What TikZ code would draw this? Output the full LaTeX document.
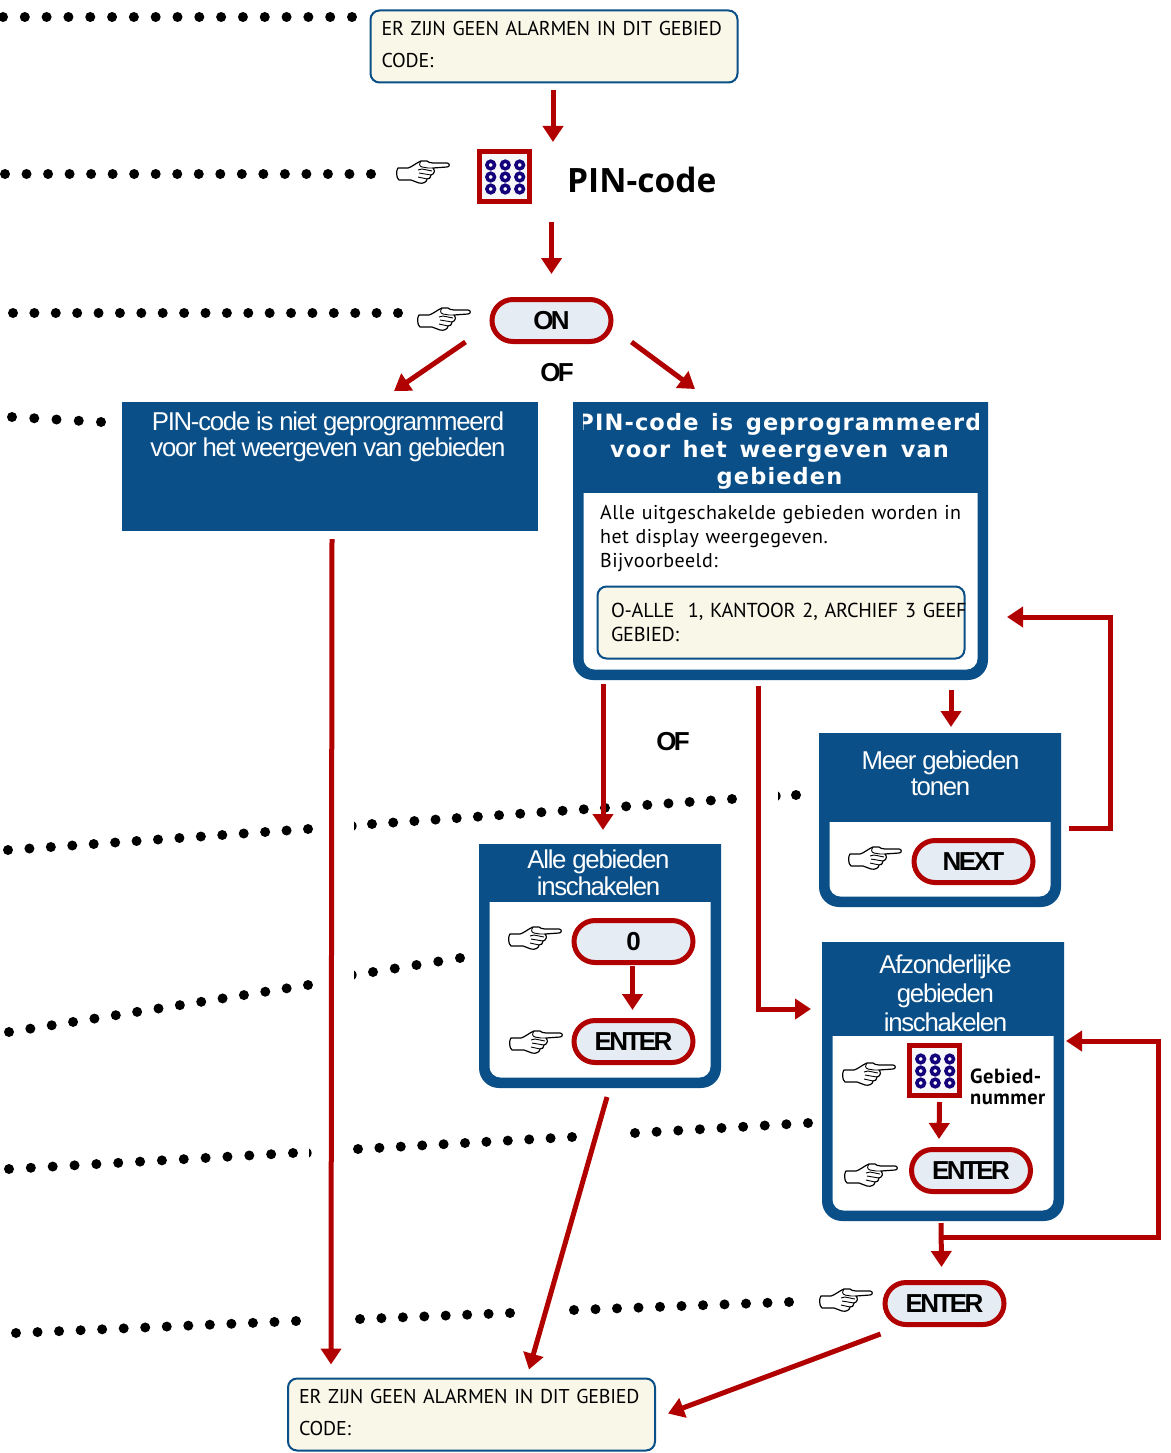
\documentclass[tikz,border=0pt]{standalone}
\usepackage{fontspec}
\usetikzlibrary{arrows.meta,calc,fit}
\setmainfont{Liberation Sans}
\newfontfamily\lcdfont[LetterSpace=-1.1,WordSpace=1.3]{PT Sans}
\newfontfamily\bodyfont[LetterSpace=2.3,WordSpace=1.6]{PT Sans}
\newfontfamily\tightfont[LetterSpace=-5]{Liberation Sans}
\newfontfamily\keyfont[LetterSpace=-10]{Liberation Sans}
\newfontfamily\headfont[LetterSpace=5,WordSpace=1.4]{DejaVu Sans}
\newfontfamily\pinfont{Open Sans}
\definecolor{panelblue}{HTML}{0A4F88}
\definecolor{redline}{HTML}{B00000}
\definecolor{lcdfill}{HTML}{F8F7E8}
\definecolor{keyfill}{HTML}{E6ECF3}
\definecolor{ringblue}{HTML}{14007A}
\tikzset{
  x=1pt,y=-1pt,
  arr/.style={draw=redline,line width=5pt,-{Triangle[width=20pt,length=16pt]}},
  lcd/.style={draw=panelblue,line width=2pt,fill=lcdfill,rounded corners=9pt,minimum width=367pt,minimum height=72pt,
    text width=345pt,align=left,inner sep=0pt,font=\lcdfont\fontsize{20}{32}\selectfont},
  keybtn/.style={draw=redline,line width=5pt,fill=keyfill,rounded corners=21pt,minimum width=119pt,minimum height=42pt,
    inner sep=0pt,font=\keyfont\bfseries\fontsize{26}{28}\selectfont},
  orlabel/.style={inner sep=0pt,font=\keyfont\bfseries\fontsize{26}{28}\selectfont},
  paneltitle/.style={inner sep=0pt,align=center,text=white,font=\tightfont\fontsize{25.8}{26.5}\selectfont},
  anchorbox/.style={inner sep=0pt,outer sep=0pt},
  handpic/.pic={
    \draw[black,line width=1.2pt,fill=white,line join=round]
      (1,8) -- (11,8) .. controls (15,7) and (19,3) .. (24,1) -- (30,1)
      .. controls (31,2) and (33,3) .. (36,3) -- (50,3)
      .. controls (53,3) and (53,7) .. (50,7) -- (36,8)
      .. controls (38,10) and (38,14) .. (34,15)
      .. controls (34,18) and (32,19) .. (30,19)
      .. controls (30,22) and (26,24) .. (22,23)
      -- (14,20) -- (2,20) .. controls (-1,18) and (-1,10) .. (1,8) -- cycle;
    \draw[black,line width=.9pt]
      (24,1) .. controls (22,4) and (22,6) .. (25,7) -- (31,8) -- (36,8)
      (21,10) -- (25,9) -- (35,11)
      (22,13) -- (34,15)
      (21,17) -- (30,19);
  },
  keypadpic/.pic={
    \draw[draw=redline,line width=4.6pt,fill=keyfill!40!white] (2.3,2.3) rectangle (52.7,52.7);
    \foreach \cx in {13.7,28.2,42.7} \foreach \cy in {16,28,40}
      \draw[ringblue,line width=3.5pt,fill=white] (\cx,\cy) circle (3.8pt);
  }
}
\newcommand{\panel}[6]{% name x1 y1 x2 y2 headbottom
  \fill[panelblue] (#2,#3) -- (#4,#3) [rounded corners=20pt] -- (#4,#5) -- (#2,#5) [sharp corners] -- cycle;
  \fill[white] (#2+10.5,#6) -- (#4-10.5,#6) [rounded corners=11pt] -- (#4-10.5,#5-10.5) -- (#2+10.5,#5-10.5) [sharp corners] -- cycle;
  \node[anchorbox,fit={(#2,#3)(#4,#5)}] (#1) {};
}
\newcommand{\dotrun}[3]{% from, to, intervals
  \foreach \i in {0,...,#3}
    \fill[black] ($(#1)!{\i/#3}!(#2)$) circle (5pt);
}
\newcommand{\sliver}[2]{% a dot mostly hidden behind the white strip, only its right edge shows
  \fill[black] (#1,#2-4.5) .. controls (#1+3.5,#2-3) and (#1+3.5,#2+3) .. (#1,#2+4.5) -- cycle;
}
\newcommand{\lowstrut}{\rule[-4pt]{0pt}{4pt}}
\begin{document}
\begin{tikzpicture}
\useasboundingbox (0,0) rectangle (1170,1453);
% dotted leaders
\coordinate (d1a) at (3,17);      \coordinate (d1b) at (352,17);
\coordinate (d2a) at (5,174);     \coordinate (d2b) at (371,174);
\coordinate (d3a) at (13,313);    \coordinate (d3b) at (398,313);
\coordinate (d4a) at (12,417);    \coordinate (d4b) at (101,422);
\coordinate (d5a) at (8,850);     \coordinate (d5b) at (308,829);
\coordinate (d5c) at (372,824);   \coordinate (d5d) at (732,799);
\coordinate (d6a) at (9,1032);    \coordinate (d6b) at (308,985);
\coordinate (d6c) at (373,972);   \coordinate (d6d) at (460,958);
\coordinate (d7a) at (9,1169);    \coordinate (d7b) at (293,1153);
\coordinate (d7c) at (358,1149);  \coordinate (d7d) at (572,1137);
\coordinate (d7e) at (635,1133);  \coordinate (d7f) at (808,1123);
\coordinate (d8a) at (16,1333);   \coordinate (d8b) at (296,1321);
\coordinate (d8c) at (360,1319);  \coordinate (d8d) at (510,1313);
\coordinate (d8e) at (574,1310);  \coordinate (d8f) at (789,1302);
\dotrun{d1a}{d1b}{16}
\dotrun{d2a}{d2b}{17}
\dotrun{d3a}{d3b}{18}
\dotrun{d4a}{d4b}{4}
\dotrun{d5a}{d5b}{14}
\dotrun{d5c}{d5d}{17}
\dotrun{d6a}{d6b}{14}
\dotrun{d6c}{d6d}{4}
\dotrun{d7a}{d7b}{13}
\dotrun{d7c}{d7d}{10}
\dotrun{d7e}{d7f}{8}
\dotrun{d8a}{d8b}{13}
\dotrun{d8c}{d8d}{7}
\dotrun{d8e}{d8f}{10}
\fill[black] (796,795) circle (5pt);
\sliver{354}{826}\sliver{778}{796}\sliver{354}{975}\sliver{309}{1153}
% top
\node[lcd] (lcdtop) at (554,46.5) {\mbox{ER ZIJN GEEN ALARMEN IN DIT GEBIED}\\CODE:\lowstrut};
\pic at (397,160) {handpic};
\pic at (477,149) {keypadpic};
\node[anchorbox,fit={(477,149)(532,204)}] (keyone) {};
\node[anchor=west,inner sep=0pt,font=\pinfont\bfseries\fontsize{33.5}{36}\selectfont] (pincode) at (567,180) {PIN-code};
\node[keybtn] (onkey) at (551.5,320.5) {ON};
\pic at (418,307) {handpic};
\node[orlabel] (ofone) at (557,373) {OF};
% left box
\node[fill=panelblue,minimum width=416pt,minimum height=129pt,inner sep=0pt,outer sep=0pt] (leftbox) at (330,466.5) {};
\node[paneltitle] (lefttitle) at (328,437) {PIN-code is niet geprogrammeerd\\voor het weergeven van gebieden};
% right panel
\panel{rightpanel}{573}{402}{988}{680}{493}
\begin{scope}
\clip (583,402) rectangle (978,493);
\node[inner sep=0pt,align=center,text=white,font=\headfont\bfseries\fontsize{22.5}{27}\selectfont] (righttitle) at (779.5,451.5) {PIN-code is geprogrammeerd\\voor het weergeven van\\gebieden};
\end{scope}
\node[anchor=north west,inner sep=0pt,text width=365pt,align=left,font=\bodyfont\fontsize{20}{24}\selectfont] (rightbody) at (600,505.5) {\mbox{Alle uitgeschakelde gebieden worden in}\\het display weergegeven.\\Bijvoorbeeld:};
\node[lcd,minimum width=367pt,minimum height=72pt,text width=340pt,font=\lcdfont\fontsize{20.2}{24}\selectfont] (lcdmid) at (781,622.5) {\mbox{O-ALLE\ \ 1, KANTOOR 2, ARCHIEF 3 GEEF}\\GEBIED:};
\node[orlabel] (oftwo) at (673,742) {OF};
% more areas
\panel{meerpanel}{819}{733}{1061}{907}{822}
\node[paneltitle] (meertitle) at (940.5,773.5) {Meer gebieden\\tonen};
\pic at (849,846) {handpic};
\node[keybtn] (nextkey) at (973.5,861.5) {NEXT};
% all areas
\panel{allepanel}{479}{844}{721}{1088}{902}
\node[paneltitle] (alletitle) at (598.5,873) {Alle gebieden\\inschakelen};
\pic at (509,926) {handpic};
\node[keybtn] (zerokey) at (633.5,941.5) {0};
\pic at (510,1030) {handpic};
\node[keybtn] (enterone) at (633.5,1041.5) {ENTER};
% individual areas
\panel{afzpanel}{822}{942}{1064}{1221}{1036}
\node[paneltitle,font=\tightfont\fontsize{25.8}{29}\selectfont] (afztitle) at (945.5,993.5) {Afzonderlijke\\gebieden\\inschakelen};
\pic at (843,1062) {handpic};
\pic at (907,1043) {keypadpic};
\node[anchorbox,fit={(907,1043)(962,1098)}] (keytwo) {};
\node[anchor=west,inner sep=0pt,align=left,font=\bodyfont\bfseries\fontsize{20.5}{21}\selectfont] (gebied) at (970,1086.5) {Gebied-\\nummer};
\pic at (845,1163) {handpic};
\node[keybtn] (entertwo) at (971,1170.5) {ENTER};
% final
\pic at (820,1288) {handpic};
\node[keybtn] (enterthree) at (944.5,1303.5) {ENTER};
\node[lcd] (lcdbottom) at (471.5,1414.5) {\mbox{ER ZIJN GEEN ALARMEN IN DIT GEBIED}\\CODE:\lowstrut};
% connectors
\draw[arr] ([xshift=-1pt,yshift=-7pt]lcdtop.south) -- ([xshift=-1pt,yshift=7pt]lcdtop.south |- keyone.north);
\draw[arr] ([yshift=-18pt]onkey.north |- keyone.south) -- ([yshift=23pt]onkey.north);
\draw[arr] ([xshift=-24pt,yshift=2pt]onkey.south west) -- ([xshift=64pt,yshift=11pt]leftbox.north);
\draw[arr] ([xshift=18pt,yshift=2pt]onkey.south east) -- ([xshift=122pt,yshift=13pt]rightpanel.north west);
\draw[arr] ([xshift=2pt,yshift=-8pt]leftbox.south) -- ([xshift=44pt,yshift=13pt]lcdbottom.north west);
\draw[arr] ([xshift=30pt,yshift=-4pt]rightpanel.south west) -- ([xshift=124pt,yshift=14pt]allepanel.north west);
\draw[arr] ([xshift=185pt,yshift=-6pt]rightpanel.south west) |- ([xshift=-11pt,yshift=-67pt]afzpanel.north west);
\draw[arr] ([xshift=-37pt,yshift=-10pt]rightpanel.south east) -- ([xshift=11pt,yshift=6pt]meerpanel.north);
\draw[arr] ([xshift=8pt,yshift=-8pt]meerpanel.east) -- ++(41,0) |- ([xshift=19pt,yshift=-76pt]rightpanel.east);
\draw[arr] ([xshift=-1pt,yshift=-1pt]zerokey.south) -- ([xshift=-1pt,yshift=8pt]enterone.north);
\draw[arr] ([xshift=7pt,yshift=-9pt]allepanel.south) -- ([xshift=57.5pt,yshift=8pt]lcdbottom.north);
\draw[arr] ([xshift=5pt,yshift=-4pt]keytwo.south) -- ([xshift=-32pt,yshift=8pt]entertwo.north);
\draw[arr] ([xshift=-2pt,yshift=-2pt]afzpanel.south) -- ([xshift=-3pt,yshift=13pt]enterthree.north);
\draw[arr] ([xshift=-2pt,yshift=-16pt]afzpanel.south) -- ++(217,0) |- ([xshift=2pt,yshift=40.5pt]afzpanel.east);
\draw[arr] ([xshift=-2pt,yshift=-7pt]enterthree.south west) -- ([yshift=1pt,xshift=12pt]lcdbottom.east);
\end{tikzpicture}
\end{document}
